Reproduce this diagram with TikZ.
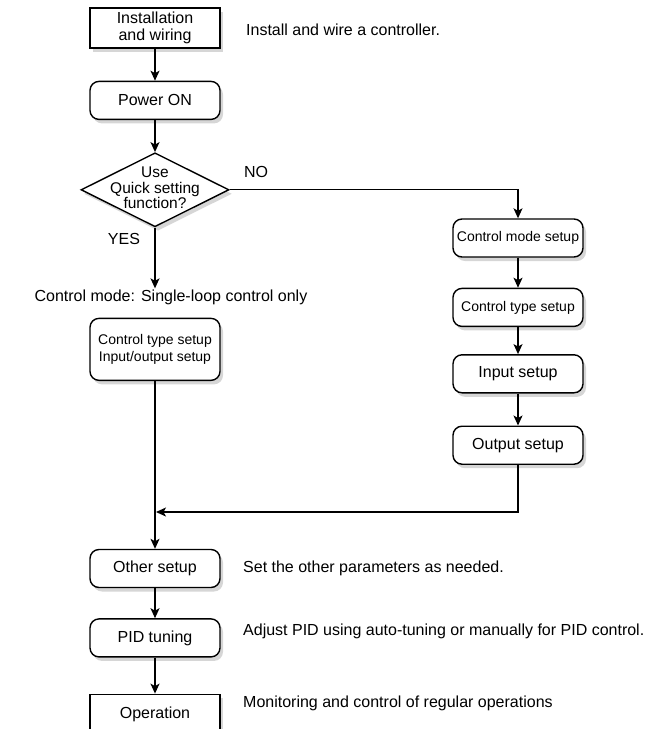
\documentclass[tikz,border=0pt]{standalone}
\usepackage{fontspec}
\setmainfont{Liberation Sans}
\usetikzlibrary{arrows.meta,positioning,shapes.geometric,shadows}
\newcommand{\fsz}{\fontsize{16}{17.5}\selectfont}
\newcommand{\fsm}{\fontsize{14}{17}\selectfont}
\newcommand{\fsd}{\fontsize{15.5}{15.5}\selectfont}
\tikzset{
  shd/.style={drop shadow={shadow xshift=3pt,shadow yshift=-4pt,fill=black,opacity=.16}},
  sbox/.style={draw=black,fill=white,line width=1.4pt,minimum width=130pt,minimum height=38pt,align=center,font=\fsz,inner sep=2pt,shd},
  rbox/.style={sbox,rounded corners=9pt},
  dbox/.style={diamond,draw=black,fill=white,line width=1.4pt,minimum width=148pt,minimum height=74pt,inner sep=0pt,shd},
  note/.style={font=\fsz,inner sep=0pt,anchor=west},
  arr/.style={-{Stealth[length=10pt,width=9pt,inset=2.5pt]},line width=1.3pt},
}
\begin{document}
\begin{tikzpicture}[x=1pt,y=1pt]
\useasboundingbox (0,0) rectangle (654,-729);
\node[sbox, minimum height=40pt] (inst) at (155,-28) {Installation\\and wiring};
\node[rbox, below=32pt of inst] (power) {Power ON};
\node[dbox, below=32pt of power] (dec) {};
\node[align=center, font=\fsd, inner sep=0pt, yshift=2pt] (dect) at (dec.center) {Use\\Quick setting\\function?};
\node[font=\fsz, inner sep=1pt] (mode) at (171,-297) {Control mode: Single-loop control only};
\node[rbox, font=\fsm, minimum height=62pt, below=12pt of mode.south -| dec.south, anchor=north] (ctl) {Control type setup\\Input/output setup};
\node[rbox, font=\fsm] (cmode) at (518,-238) {Control mode setup};
\node[rbox, font=\fsm, below=30pt of cmode] (ctype) {Control type setup};
\node[rbox, below=27pt of ctype] (inp) {Input setup};
\node[rbox, below=32pt of inp] (outp) {Output setup};
\coordinate (mrg) at (156,-512);
\node[rbox] (other) at (155,-568.5) {Other setup};
\node[rbox, below=30pt of other] (pid) {PID tuning};
\node[sbox, minimum height=40pt, below=36pt of pid] (op) {Operation};
\node[note] (n1) at (246,-30) {Install and wire a controller.};
\node[note] (n2) at (243,-568) {Set the other parameters as needed.};
\node[note] (n3) at (243,-631) {Adjust PID using auto-tuning or manually for PID control.};
\node[note] (n4) at (243,-703) {Monitoring and control of regular operations};
\node[font=\fsz] (no) at (256,-172) {NO};
\node[font=\fsz] (yes) at (124,-239) {YES};
\draw[arr] (inst) -- (power);
\draw[arr] (power) -- (dec);
\draw[arr] (dec.south) -- (mode.north -| dec.south);
\draw[arr] (dec.east) -| (cmode.north);
\draw[arr] (cmode) -- (ctype);
\draw[arr] (ctype) -- (inp);
\draw[arr] (inp) -- (outp);
\draw[arr] (outp.south) |- (mrg);
\draw[arr] (ctl.south) -- (other.north -| ctl.south);
\draw[arr] (other) -- (pid);
\draw[arr] (pid) -- (op);
\end{tikzpicture}
\end{document}
